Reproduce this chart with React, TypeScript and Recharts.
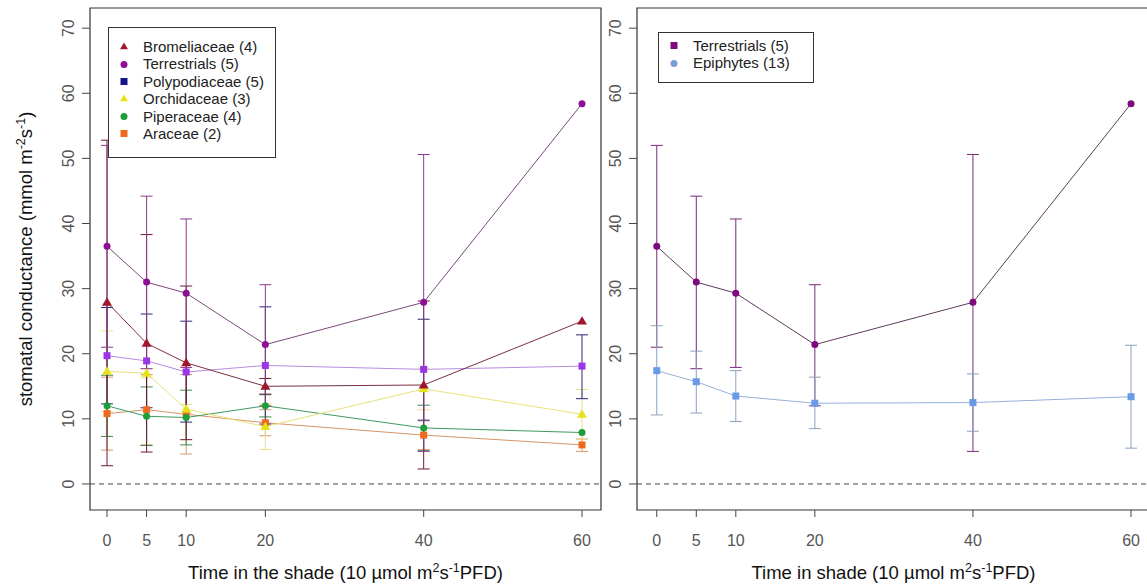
import React from 'react';
import { LineChart, Line, XAxis, YAxis, ErrorBar, ReferenceLine, ReferenceArea } from 'recharts';

// ---------- data ----------
const times = [0, 5, 10, 20, 40, 60];
const xTicks = [0, 5, 10, 20, 40, 60];
const yTicks = [0, 10, 20, 30, 40, 50, 60, 70];

const bromMean = [27.9, 21.6, 18.6, 15.0, 15.2, 25.0];
const bromLo = [2.8, 4.9, 6.8, 13.8, 2.3, null];
const bromHi = [52.8, 38.3, 30.4, 16.2, 28.1, null];

const terrMean = [36.5, 31.0, 29.3, 21.4, 27.9, 58.4];
const terrLo = [21.0, 17.7, 17.9, 12.0, 5.0, null];
const terrHi = [52.0, 44.2, 40.7, 30.6, 50.6, null];

const polyMean = [19.7, 18.9, 17.2, 18.2, 17.6, 18.1];
const polyLo = [12.3, 11.7, 9.5, 9.2, 9.8, 13.1];
const polyHi = [27.1, 26.1, 25.0, 27.2, 25.3, 22.9];

const orchMean = [17.3, 17.0, 11.5, 8.8, 14.6, 10.7];
const orchLo = [11.1, 16.3, 10.8, 5.3, 11.4, 6.9];
const orchHi = [23.5, 17.7, 12.2, 12.3, 17.8, 14.5];

const pipeMean = [12.0, 10.4, 10.2, 12.0, 8.6, 7.9];
const pipeLo = [7.3, 5.9, 6.0, 10.3, 5.1, null];
const pipeHi = [16.7, 14.9, 14.4, 13.7, 12.1, null];

const araMean = [10.8, 11.4, 10.7, 9.4, 7.5, 6.0];
const araLo = [5.2, 6.0, 4.6, 7.4, 5.3, 5.0];
const araHi = [16.4, 16.8, 16.8, 11.4, 9.7, 6.9];

const epiMean = [17.4, 15.7, 13.5, 12.4, 12.5, 13.4];
const epiLo = [10.6, 10.9, 9.6, 8.5, 8.1, 5.5];
const epiHi = [24.3, 20.4, 17.4, 16.4, 16.9, 21.3];

// ---------- series config ----------
type Shape = 'tri' | 'circle' | 'square';
interface Series {
  key: string;
  name: string;
  mean: number[];
  lo: (number | null)[];
  hi: (number | null)[];
  shape: Shape;
  marker: string;
  legend: string;
  legendShape: Shape;
  line: string;
  err: string;
}

const leftSeries: Series[] = [
  { key: 'ara', name: 'Araceae (2)', mean: araMean, lo: araLo, hi: araHi, shape: 'square', marker: '#EE6A1E', legend: '#EE6A1E', legendShape: 'square', line: '#D8956A', err: '#D89A6A' },
  { key: 'pipe', name: 'Piperaceae (4)', mean: pipeMean, lo: pipeLo, hi: pipeHi, shape: 'circle', marker: '#1E9E3A', legend: '#1E9E3A', legendShape: 'circle', line: '#3E9A60', err: '#3A8A50' },
  { key: 'orch', name: 'Orchidaceae (3)', mean: orchMean, lo: orchLo, hi: orchHi, shape: 'tri', marker: '#E6E21A', legend: '#E6E21A', legendShape: 'tri', line: '#E8E27A', err: '#E6DC8A' },
  { key: 'poly', name: 'Polypodiaceae (5)', mean: polyMean, lo: polyLo, hi: polyHi, shape: 'square', marker: '#9B36E6', legend: '#14148C', legendShape: 'square', line: '#B98BE0', err: '#2A2A78' },
  { key: 'brom', name: 'Bromeliaceae (4)', mean: bromMean, lo: bromLo, hi: bromHi, shape: 'tri', marker: '#A0162E', legend: '#A0162E', legendShape: 'tri', line: '#7A3040', err: '#6E1B2A' },
  { key: 'terr', name: 'Terrestrials (5)', mean: terrMean, lo: terrLo, hi: terrHi, shape: 'circle', marker: '#8E0E96', legend: '#8E0E96', legendShape: 'circle', line: '#7A4A7A', err: '#8A3A8A' },
];
const leftLegendOrder = ['brom', 'terr', 'poly', 'orch', 'pipe', 'ara'];

const rightSeries: Series[] = [
  { key: 'terr', name: 'Terrestrials (5)', mean: terrMean, lo: terrLo, hi: terrHi, shape: 'circle', marker: '#7E0A7E', legend: '#7E0A7E', legendShape: 'square', line: '#5C3A5C', err: '#7A2A7A' },
  { key: 'epi', name: 'Epiphytes (13)', mean: epiMean, lo: epiLo, hi: epiHi, shape: 'square', marker: '#6A9AE6', legend: '#7A9CD4', legendShape: 'circle', line: '#95B0D8', err: '#8AA2C0' },
];

function buildRows(series: Series[]) {
  return times.map((t, i) => {
    const row: any = { t };
    series.forEach((s) => {
      row[s.key] = s.mean[i];
      const lo = s.lo[i];
      const hi = s.hi[i];
      row[s.key + 'Err'] = lo == null || hi == null ? undefined : [s.mean[i] - lo, hi - s.mean[i]];
    });
    return row;
  });
}

const leftRows = buildRows(leftSeries);
const rightRows = buildRows(rightSeries);

// ---------- drawing helpers ----------
const FONT = '"Liberation Sans", Arial, Helvetica, sans-serif';

function Marker({ cx, cy, shape, fill, size }: { cx: number; cy: number; shape: Shape; fill: string; size: number }) {
  if (cx == null || cy == null) return null;
  if (shape === 'circle') return <circle cx={cx} cy={cy} r={size / 2} fill={fill} />;
  if (shape === 'square') return <rect x={cx - size / 2} y={cy - size / 2} width={size} height={size} fill={fill} />;
  const h = size * 0.9;
  return (
    <polygon
      points={`${cx},${cy - h * 0.62} ${cx - size / 2 - 0.5},${cy + h * 0.42} ${cx + size / 2 + 0.5},${cy + h * 0.42}`}
      fill={fill}
    />
  );
}

const YTick = (props: any) => {
  const { x, y, payload } = props;
  return (
    <text x={x} y={y} transform={`rotate(-90 ${x} ${y})`} textAnchor="middle" fontSize={16} fill="#555" fontFamily={FONT}>
      {payload.value}
    </text>
  );
};

const XTick = (props: any) => {
  const { x, y, payload } = props;
  return (
    <text x={x} y={y} dy={12} textAnchor="middle" fontSize={16} fill="#555" fontFamily={FONT}>
      {payload.value}
    </text>
  );
};

const XTitle = (props: any) => {
  const { viewBox, prefix } = props;
  if (!viewBox) return null;
  const cx = viewBox.x + viewBox.width / 2;
  const y = viewBox.y + viewBox.height - 6;
  return (
    <text x={cx} y={y} textAnchor="middle" fontSize={18.5} fill="#111" fontFamily={FONT}>
      {prefix} (10 µmol m
      <tspan dy={-7} fontSize={12.5}>2</tspan>
      <tspan dy={7}>s</tspan>
      <tspan dy={-7} fontSize={12.5}>-1</tspan>
      <tspan dy={7}>PFD)</tspan>
    </text>
  );
};

const YTitle = (props: any) => {
  const { viewBox } = props;
  if (!viewBox) return null;
  const cy = viewBox.y + viewBox.height / 2;
  const x = 32;
  return (
    <text x={x} y={cy} transform={`rotate(-90 ${x} ${cy})`} textAnchor="middle" fontSize={18.5} fill="#111" fontFamily={FONT}>
      stomatal conductance (mmol m
      <tspan dy={-7} fontSize={12.5}>-2</tspan>
      <tspan dy={7}>s</tspan>
      <tspan dy={-7} fontSize={12.5}>-1</tspan>
      <tspan dy={7}>)</tspan>
    </text>
  );
};

function LegendBox({ items, style }: { items: Series[]; style: React.CSSProperties }) {
  return (
    <div
      style={{
        position: 'absolute',
        border: '1px solid #333',
        background: '#fff',
        fontFamily: FONT,
        fontSize: 15,
        color: '#222',
        boxSizing: 'border-box',
        ...style,
      }}
    >
      {items.map((s) => (
        <div key={s.key + s.name} style={{ display: 'flex', alignItems: 'center', height: 17.4, lineHeight: '17.4px' }}>
          <svg width={30} height={17} style={{ flex: 'none' }}>
            <Marker cx={15} cy={8.5} shape={s.legendShape} fill={s.legend} size={7} />
          </svg>
          <span style={{ marginLeft: 4, whiteSpace: 'nowrap' }}>{s.name}</span>
        </div>
      ))}
    </div>
  );
}

function renderSeries(series: Series[], capWidth: number) {
  return series.map((s) => (
    <Line
      key={s.key}
      type="linear"
      dataKey={s.key}
      stroke={s.line}
      strokeWidth={1}
      isAnimationActive={false}
      activeDot={false}
      dot={(p: any) => <Marker key={`${s.key}-d-${p.index}`} cx={p.cx} cy={p.cy} shape={s.shape} fill={s.marker} size={s.shape === 'tri' ? 9 : 7} />}
    >
      <ErrorBar dataKey={s.key + 'Err'} width={capWidth} stroke={s.err} strokeWidth={1} direction="y" isAnimationActive={false} />
    </Line>
  ));
}

const Y_DOMAIN: [number, number] = [-4, 73.1];
const LEFT_X: [number, number] = [-2.15, 62.4];
const RIGHT_X: [number, number] = [-2.5, 62.4];

export default function App() {
  const leftLegendItems = leftLegendOrder.map((k) => leftSeries.find((s) => s.key === k)!) as Series[];
  return (
    <div style={{ position: 'absolute', left: 0, top: 0, width: 1147, height: 585, overflow: 'hidden', background: '#fff' }}>
      <div style={{ position: 'absolute', left: 0, top: 0 }}>
        <LineChart width={605} height={585} data={leftRows} margin={{ top: 8, right: 4, bottom: 0, left: 0 }}>
          <XAxis
            dataKey="t"
            type="number"
            domain={LEFT_X}
            ticks={xTicks}
            allowDataOverflow
            axisLine={false}
            tickLine={{ stroke: '#444' }}
            tickSize={7}
            tickMargin={17}
            height={75}
            tick={<XTick />}
            label={<XTitle prefix="Time in the shade" />}
          />
          <YAxis
            type="number"
            domain={Y_DOMAIN}
            ticks={yTicks}
            allowDataOverflow
            axisLine={false}
            tickLine={{ stroke: '#444' }}
            tickSize={8}
            tickMargin={8}
            width={90}
            tick={<YTick />}
            label={<YTitle />}
          />
          <ReferenceArea x1={LEFT_X[0]} x2={LEFT_X[1]} y1={Y_DOMAIN[0]} y2={Y_DOMAIN[1]} fill="none" stroke="#333" strokeWidth={1.2} />
          <ReferenceLine y={0} stroke="#444" strokeDasharray="5 4" />
          {renderSeries(leftSeries, 6)}
        </LineChart>
      </div>
      <div style={{ position: 'absolute', left: 605, top: 0 }}>
        <LineChart width={548} height={585} data={rightRows} margin={{ top: 8, right: 3, bottom: 0, left: 0 }}>
          <XAxis
            dataKey="t"
            type="number"
            domain={RIGHT_X}
            ticks={xTicks}
            allowDataOverflow
            axisLine={false}
            tickLine={{ stroke: '#444' }}
            tickSize={7}
            tickMargin={17}
            height={75}
            tick={<XTick />}
            label={<XTitle prefix="Time in shade" />}
          />
          <YAxis
            type="number"
            domain={Y_DOMAIN}
            ticks={yTicks}
            allowDataOverflow
            axisLine={false}
            tickLine={{ stroke: '#444' }}
            tickSize={8}
            tickMargin={8}
            width={32}
            tick={<YTick />}
          />
          <ReferenceArea x1={RIGHT_X[0]} x2={RIGHT_X[1]} y1={Y_DOMAIN[0]} y2={Y_DOMAIN[1]} fill="none" stroke="#333" strokeWidth={1.2} />
          <ReferenceLine y={0} stroke="#444" strokeDasharray="5 4" />
          {renderSeries(rightSeries, 6)}
        </LineChart>
      </div>
      <LegendBox items={leftLegendItems} style={{ left: 108, top: 27, width: 168, height: 131, paddingTop: 10, paddingLeft: 0 }} />
      <LegendBox items={rightSeries} style={{ left: 658, top: 32, width: 156, height: 51, paddingTop: 4, paddingLeft: 0 }} />
    </div>
  );
}
